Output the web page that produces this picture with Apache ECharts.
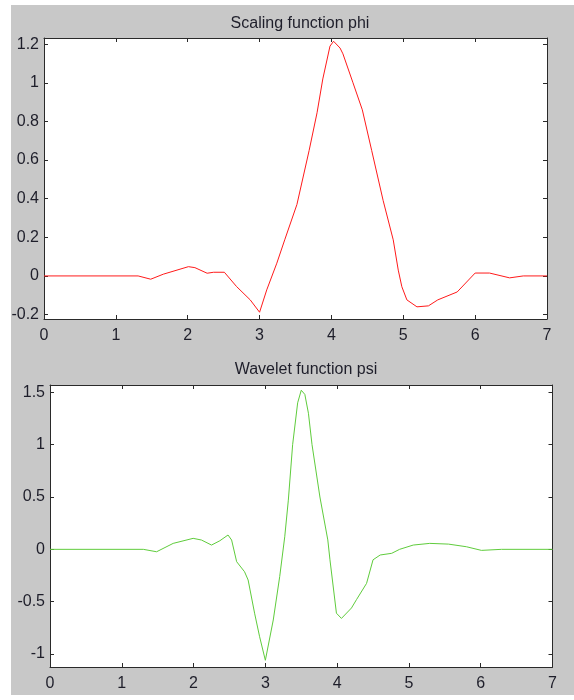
<!DOCTYPE html>
<html>
<head>
<meta charset="utf-8">
<script src="https://cdn.jsdelivr.net/npm/echarts@6/dist/echarts.min.js"></script>
<style>
html,body{margin:0;padding:0;background:#ffffff;}
#chart{width:574px;height:700px;}
</style>
</head>
<body>
<div id="chart"></div>
<script>
// ---- data ----
const phiX = [0, 1.31, 1.485, 1.66, 2.01, 2.1, 2.27, 2.36, 2.51, 2.68, 2.87, 3.0, 3.1, 3.24, 3.35, 3.52, 3.69, 3.8, 3.88, 3.98, 4.03, 4.12, 4.16, 4.3, 4.43, 4.56, 4.72, 4.86, 4.93, 4.98, 5.05, 5.19, 5.35, 5.48, 5.75, 6.0, 6.2, 6.48, 6.67, 7];
const phiY = [0, 0, -0.017, 0.009, 0.048, 0.043, 0.014, 0.019, 0.019, -0.055, -0.124, -0.188, -0.072, 0.066, 0.187, 0.37, 0.65, 0.845, 1.02, 1.19, 1.215, 1.18, 1.15, 1.0, 0.86, 0.65, 0.39, 0.187, 0.03, -0.056, -0.124, -0.16, -0.155, -0.124, -0.083, 0.015, 0.015, -0.01, 0, 0];
const psiX = [0, 1.3, 1.485, 1.716, 1.994, 2.11, 2.25, 2.366, 2.48, 2.53, 2.6, 2.71, 2.76, 2.85, 2.92, 3.0, 3.11, 3.2, 3.27, 3.32, 3.38, 3.45, 3.5, 3.55, 3.6, 3.65, 3.76, 3.87, 3.9, 3.99, 4.06, 4.2, 4.27, 4.41, 4.5, 4.6, 4.76, 4.87, 5.06, 5.29, 5.55, 5.8, 6.01, 6.29, 7];
const psiY = [0, 0, -0.023, 0.057, 0.105, 0.089, 0.041, 0.082, 0.137, 0.089, -0.118, -0.214, -0.293, -0.61, -0.835, -1.06, -0.675, -0.26, 0.12, 0.47, 1.0, 1.4, 1.52, 1.48, 1.3, 1.0, 0.5, 0.09, -0.1, -0.61, -0.66, -0.56, -0.48, -0.325, -0.1, -0.054, -0.038, 0, 0.041, 0.057, 0.05, 0.025, -0.01, 0, 0];
const xTicks = [0, 1, 2, 3, 4, 5, 6, 7];
const phiTicks = [-0.2, 0, 0.2, 0.4, 0.6, 0.8, 1, 1.2];
const psiTicks = [-1, -0.5, 0, 0.5, 1, 1.5];
const titles = ['Scaling function phi', 'Wavelet function psi'];

const FONT = 'Liberation Sans';
const FS = 16;
const TXT = '#1e1e2a';
const LINE = '#2a2a2a';

function pairs(xs, ys){ return xs.map((x,i)=>[x, ys[i]]); }

function xAxisPair(gi){
  const base = {
    gridIndex: gi, type: 'value', min: 0, max: 7, interval: 1,
    axisLine: {show: true, onZero: false, lineStyle: {color: LINE, width: 1}},
    axisTick: {show: true, inside: true, length: 4, customValues: xTicks, lineStyle: {color: LINE}},
    splitLine: {show: false}
  };
  return [
    Object.assign({}, base, {position: 'bottom',
      axisLabel: {show: true, color: TXT, fontFamily: FONT, fontSize: FS, margin: 9, customValues: xTicks}}),
    Object.assign({}, base, {position: 'top', axisLabel: {show: false}})
  ];
}
function yAxisPair(gi, min, max, ticks){
  const base = {
    gridIndex: gi, type: 'value', min: min, max: max,
    axisLine: {show: true, onZero: false, lineStyle: {color: LINE, width: 1}},
    axisTick: {show: true, inside: true, length: 4, customValues: ticks, lineStyle: {color: LINE}},
    splitLine: {show: false}
  };
  return [
    Object.assign({}, base, {position: 'left',
      axisLabel: {show: true, color: TXT, fontFamily: FONT, fontSize: FS, margin: 5, customValues: ticks}}),
    Object.assign({}, base, {position: 'right', axisLabel: {show: false}})
  ];
}

const chart = echarts.init(document.getElementById('chart'), null, {renderer: 'canvas'});
chart.setOption({
  animation: false,
  backgroundColor: '#ffffff',
  graphic: [{type: 'rect', z: -10, silent: true, shape: {x: 11, y: 5, width: 563, height: 690}, style: {fill: '#c8c8c8'}}],
  title: [
    {text: titles[0], left: 295, top: 11, textAlign: 'center',
     textStyle: {fontFamily: FONT, fontSize: FS, fontWeight: 'normal', color: TXT}},
    {text: titles[1], left: 301, top: 357, textAlign: 'center',
     textStyle: {fontFamily: FONT, fontSize: FS, fontWeight: 'normal', color: TXT}}
  ],
  grid: [
    {left: 44, top: 38, width: 503, height: 281, backgroundColor: '#ffffff', show: true, borderWidth: 0},
    {left: 50, top: 385, width: 502.5, height: 282, backgroundColor: '#ffffff', show: true, borderWidth: 0}
  ],
  xAxis: [].concat(xAxisPair(0), xAxisPair(1)),
  yAxis: [].concat(yAxisPair(0, -0.223, 1.232, phiTicks), yAxisPair(1, -1.124, 1.57, psiTicks)),
  series: [
    {type: 'line', xAxisIndex: 0, yAxisIndex: 0, data: pairs(phiX, phiY), symbol: 'none',
     lineStyle: {color: '#ff1a1a', width: 1}},
    {type: 'line', xAxisIndex: 2, yAxisIndex: 2, data: pairs(psiX, psiY), symbol: 'none',
     lineStyle: {color: '#5fcc3c', width: 1}}
  ]
});
</script>
</body>
</html>
